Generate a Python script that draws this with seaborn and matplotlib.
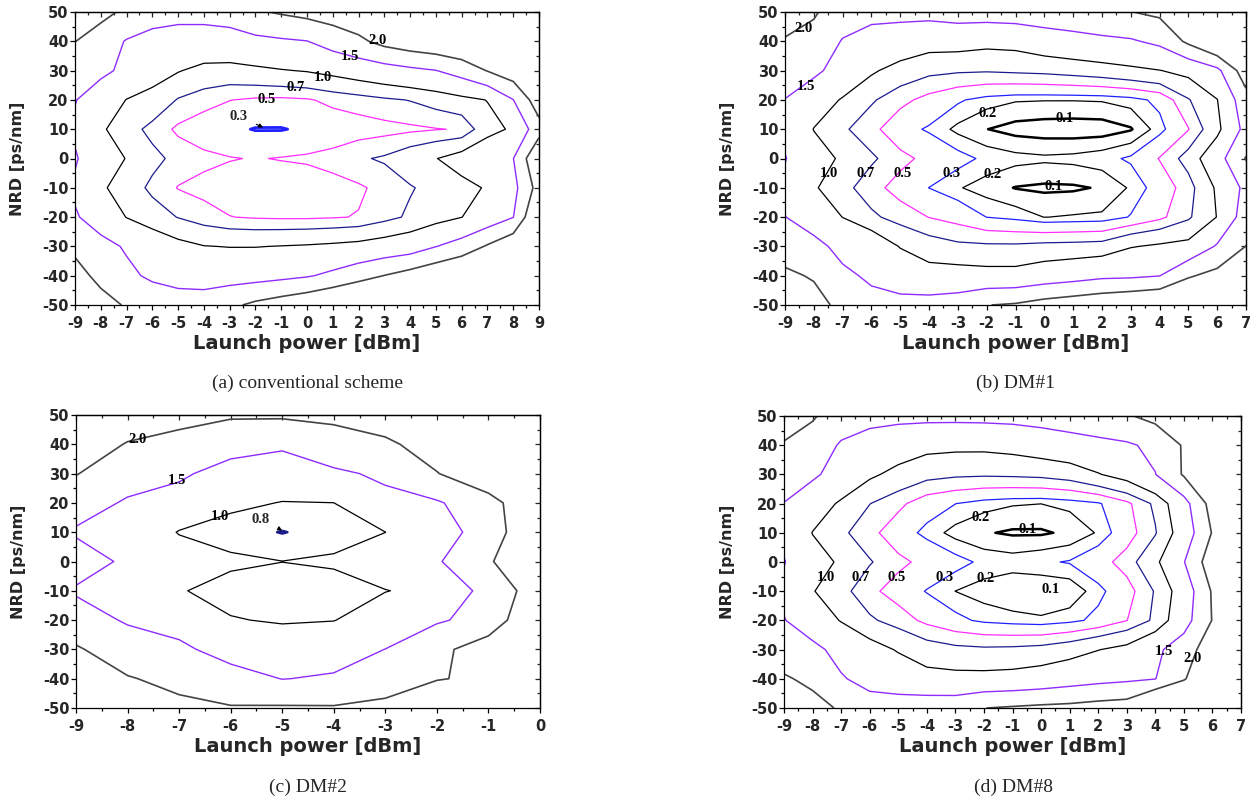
import numpy as np
import pandas as pd
import matplotlib
matplotlib.use("Agg")
import matplotlib.pyplot as plt
import seaborn as sns
from matplotlib.ticker import MultipleLocator, NullFormatter

sns.set_style("ticks")
plt.rcParams['font.family'] = ['DejaVu Sans']
plt.rcParams['axes.unicode_minus'] = False

# NRD grid (ps/nm), top row first
nrd = [50, 40, 30, 20, 10, 0, -10, -20, -30, -40, -50]

# launch power grids (dBm)
power_a = list(range(-9, 10))
power_b = list(range(-9, 8))
power_c = list(range(-9, 1))
power_d = list(range(-9, 8))

# (a) conventional scheme
grid_a = [
    [2.3, 2.15, 1.9, 1.7, 1.65, 1.65, 1.7, 1.95, 2.05, 2.15, 2.25, 2.35, 2.45, 2.55, 2.65, 2.75, 2.85, 2.95, 3.05],
    [2.01, 1.75, 1.47, 1.35, 1.3, 1.3, 1.32, 1.38, 1.44, 1.49, 1.7, 1.9, 2.15, 2.3, 2.4, 2.5, 2.6, 2.7, 2.8],
    [1.75, 1.6, 1.4, 1.12, 1.02, 0.9, 0.88, 0.93, 0.98, 1.02, 1.1, 1.2, 1.3, 1.4, 1.49, 1.7, 2.02, 2.3, 2.5],
    [1.52, 1.25, 0.99, 0.91, 0.68, 0.58, 0.505, 0.47, 0.46, 0.48, 0.55, 0.6, 0.66, 0.71, 0.8, 0.9, 1.01, 1.49, 2.3],
    [1.42, 1.05, 0.82, 0.62, 0.46, 0.38, 0.34, 0.29, 0.29, 0.33, 0.37, 0.4, 0.43, 0.46, 0.49, 0.515, 0.885, 1.05, 1.8],
    [1.55, 1.15, 0.99, 0.78, 0.62, 0.55, 0.51, 0.49, 0.51, 0.53, 0.57, 0.67, 0.73, 0.86, 0.99, 1.15, 1.3, 1.49, 2.5],
    [1.42, 1.05, 0.85, 0.64, 0.49, 0.44, 0.41, 0.4, 0.38, 0.38, 0.43, 0.47, 0.56, 0.68, 0.78, 0.9, 1.03, 1.35, 2.2],
    [1.55, 1.27, 0.99, 0.83, 0.69, 0.58, 0.505, 0.48, 0.47, 0.47, 0.485, 0.51, 0.62, 0.74, 0.86, 0.995, 1.2, 1.49, 2.6],
    [1.88, 1.65, 1.45, 1.25, 1.1, 1.01, 0.99, 0.99, 1.01, 1.03, 1.06, 1.1, 1.17, 1.25, 1.49, 1.7, 2.05, 2.4, 2.8],
    [2.2, 1.85, 1.6, 1.42, 1.33, 1.3, 1.3, 1.32, 1.38, 1.46, 1.6, 1.8, 2.01, 2.2, 2.4, 2.6, 2.8, 3.0, 3.2],
    [2.5, 2.2, 1.95, 1.8, 1.72, 1.72, 1.9, 2.1, 2.25, 2.4, 2.6, 2.8, 3.0, 3.2, 3.4, 3.6, 3.8, 4.0, 4.2],
]

# (b) DM#1
grid_b = [
    [2.3, 2.05, 1.75, 1.65, 1.62, 1.65, 1.72, 1.72, 1.75, 1.8, 1.85, 1.9, 1.99, 2.1, 2.3, 2.5, 2.9],
    [1.95, 1.85, 1.47, 1.3, 1.28, 1.15, 1.15, 1.1, 1.12, 1.24, 1.32, 1.4, 1.45, 1.6, 2.1, 2.6, 2.7],
    [1.72, 1.6, 1.3, 1.05, 0.86, 0.76, 0.73, 0.72, 0.74, 0.76, 0.8, 0.85, 0.92, 0.99, 1.1, 1.38, 2.29],
    [1.49, 1.2, 0.97, 0.73, 0.56, 0.43, 0.32, 0.245, 0.21, 0.205, 0.205, 0.21, 0.245, 0.34, 0.68, 0.99, 1.81],
    [1.4, 0.99, 0.74, 0.56, 0.36, 0.28, 0.17, 0.102, 0.06, 0.045, 0.04, 0.045, 0.09, 0.25, 0.49, 0.9, 1.65],
    [1.52, 1.15, 0.95, 0.74, 0.56, 0.44, 0.35, 0.27, 0.235, 0.22, 0.23, 0.26, 0.32, 0.51, 0.8, 1.3, 2.03],
    [1.4, 1.04, 0.78, 0.57, 0.42, 0.298, 0.21, 0.15, 0.095, 0.08, 0.085, 0.11, 0.215, 0.37, 0.6, 1.05, 1.62],
    [1.51, 1.25, 0.995, 0.75, 0.6, 0.495, 0.42, 0.298, 0.26, 0.198, 0.21, 0.22, 0.31, 0.45, 0.66, 1.01, 1.75],
    [1.75, 1.65, 1.35, 1.3, 0.98, 0.82, 0.75, 0.74, 0.74, 0.77, 0.78, 0.8, 0.98, 1.05, 1.1, 1.55, 2.01],
    [2.1, 1.95, 1.6, 1.42, 1.3, 1.15, 1.15, 1.12, 1.12, 1.22, 1.3, 1.4, 1.42, 1.49, 1.95, 2.15, 2.5],
    [2.4, 2.2, 1.85, 1.65, 1.62, 1.68, 1.75, 1.99, 2.05, 2.2, 2.3, 2.4, 2.5, 2.6, 2.6, 2.7, 2.9],
]

# (c) DM#2
grid_c = [
    [2.6, 2.3, 2.15, 2.05, 2.06, 2.05, 2.3, 2.6, 2.8, 3.0],
    [2.3, 1.97, 1.85, 1.7, 1.59, 1.9, 1.9, 2.25, 2.6, 2.9],
    [2.02, 1.7, 1.58, 1.3, 1.19, 1.4, 1.6, 1.98, 2.4, 2.8],
    [1.7, 1.45, 1.3, 1.06, 0.99, 0.998, 1.35, 1.45, 1.8, 2.5],
    [1.45, 1.32, 0.98, 0.89, 0.79, 0.89, 0.998, 1.3, 1.7, 2.56],
    [1.72, 1.42, 1.2, 1.05, 1.003, 1.04, 1.2, 1.45, 1.95, 2.45],
    [1.45, 1.33, 1.02, 0.9, 0.87, 0.886, 0.99, 1.09, 1.68, 2.26],
    [1.72, 1.45, 1.3, 1.018, 0.97, 0.99, 1.2, 1.45, 1.65, 2.6],
    [2.05, 1.75, 1.6, 1.3, 1.2, 1.3, 1.505, 1.85, 2.3, 2.7],
    [2.35, 2.03, 1.88, 1.7, 1.49, 1.55, 1.8, 1.97, 2.1, 2.8],
    [2.6, 2.35, 2.1, 2.03, 2.05, 2.04, 2.1, 2.5, 2.7, 3.0],
]

# (d) DM#8
grid_d = [
    [2.3, 2.05, 1.75, 1.65, 1.62, 1.62, 1.62, 1.63, 1.65, 1.7, 1.78, 1.87, 1.95, 2.15, 2.5, 2.9, 3.2],
    [1.95, 1.78, 1.45, 1.3, 1.2, 1.1, 1.08, 1.08, 1.12, 1.2, 1.28, 1.36, 1.44, 1.6, 2.05, 2.7, 3.0],
    [1.72, 1.58, 1.3, 1.06, 0.9, 0.78, 0.74, 0.73, 0.74, 0.76, 0.82, 0.98, 1.15, 1.49, 2.05, 2.6, 2.9],
    [1.49, 1.2, 0.95, 0.705, 0.55, 0.38, 0.302, 0.24, 0.21, 0.201, 0.23, 0.28, 0.45, 0.75, 1.32, 2.2, 2.6],
    [1.4, 0.99, 0.75, 0.56, 0.38, 0.26, 0.16, 0.11, 0.085, 0.085, 0.12, 0.212, 0.4, 0.68, 1.2, 2.03, 2.5],
    [1.52, 1.15, 0.95, 0.72, 0.55, 0.44, 0.35, 0.27, 0.25, 0.28, 0.31, 0.41, 0.59, 0.92, 1.48, 2.3, 2.6],
    [1.4, 1.02, 0.78, 0.55, 0.41, 0.29, 0.199, 0.15, 0.115, 0.102, 0.12, 0.26, 0.41, 0.72, 1.2, 2.05, 2.5],
    [1.52, 1.23, 0.98, 0.74, 0.6, 0.45, 0.34, 0.27, 0.24, 0.22, 0.26, 0.34, 0.495, 0.75, 1.3, 2.02, 2.5],
    [1.75, 1.62, 1.35, 1.15, 0.97, 0.82, 0.76, 0.74, 0.75, 0.78, 0.86, 0.99, 1.1, 1.4, 1.75, 2.3, 2.7],
    [2.05, 1.9, 1.54, 1.35, 1.25, 1.12, 1.1, 1.1, 1.12, 1.18, 1.28, 1.36, 1.42, 1.49, 1.95, 2.6, 3.0],
    [2.4, 2.15, 1.95, 1.7, 1.72, 1.79, 1.8, 1.995, 2.05, 2.1, 2.13, 2.2, 2.25, 2.9, 3.0, 3.2, 3.4],
]

levels_a = [0.3, 0.5, 0.7, 1.0, 1.5, 2.0]
levels_b = [0.1, 0.2, 0.3, 0.5, 0.7, 1.0, 1.5, 2.0]
levels_c = [0.8, 1.0, 1.5, 2.0]
levels_d = [0.1, 0.2, 0.3, 0.5, 0.7, 1.0, 1.5, 2.0]

# contour label texts and where they sit
labels_a = [("2.0", 2.75, 40.2), ("1.5", 1.65, 34.7), ("1.0", 0.6, 27.8),
            ("0.7", -0.45, 24.2), ("0.5", -1.55, 20.1)]
labels_b = [("2.0", -8.35, 44.4), ("1.5", -8.26, 24.6), ("0.2", -1.97, 15.2),
            ("0.1", 0.72, 13.6), ("1.0", -7.46, -5.2), ("0.7", -6.19, -5.2),
            ("0.5", -4.93, -5.2), ("0.3", -3.23, -5.2), ("0.2", -1.8, -5.3),
            ("0.1", 0.31, -9.4)]
labels_c = [("2.0", -7.8, 41.8), ("1.5", -7.05, 27.5), ("1.0", -6.21, 15.3)]
labels_d = [("0.2", -2.13, 15.1), ("0.1", -0.47, 11.3), ("1.0", -7.55, -5.3),
            ("0.7", -6.31, -5.3), ("0.5", -5.07, -5.3), ("0.3", -3.39, -5.3),
            ("0.2", -1.93, -5.6), ("0.1", 0.34, -9.3), ("1.5", 4.3, -30.7),
            ("2.0", 5.3, -33.2)]

level_style = {
    0.1: ("black", 1.8),
    0.2: ("black", 0.9),
    0.3: ("#1f1fff", 0.9),
    0.5: ("#ff2bff", 0.9),
    0.7: ("#1a1a8c", 0.9),
    0.8: ("#1a1a8c", 1.8),
    1.0: ("black", 0.9),
    1.5: ("#8f2bff", 1.0),
    2.0: ("#444444", 1.2),
}

W, H = 1257, 800
fig = plt.figure(figsize=(W / 100, H / 100), dpi=100)
label_font = dict(fontsize=10.5, family="Liberation Serif", fontweight="bold")


def rect(left, top, right, bottom):
    return [left / W, 1 - bottom / H, (right - left) / W, (bottom - top) / H]


def draw_panel(box, power, grid, levels, labels, caption, cap_xy, arrow=None, thick=None):
    ax = fig.add_axes(box)
    df = pd.DataFrame(grid, index=nrd, columns=power)
    X, Y = np.meshgrid(df.columns.values, df.index.values)
    for lvl in levels:
        col, lw = level_style[lvl]
        if thick and lvl in thick:
            lw = thick[lvl]
        ax.contour(X, Y, df.values, levels=[lvl], colors=[col], linewidths=[lw])

    for txt, x, y in labels:
        ax.text(x, y, txt, ha="center", va="center", color="black", **label_font)
    if arrow is not None:
        txt, (tx, ty), (px, py) = arrow
        ax.annotate(txt, xy=(px, py), xytext=(tx, ty), ha="center", va="center",
                    arrowprops=dict(arrowstyle="-|>", color="black", lw=0.8,
                                    mutation_scale=6, shrinkA=4, shrinkB=0),
                    **label_font)

    ax.set_xlim(power[0], power[-1])
    ax.set_ylim(-50, 50)
    ax.set_xticks(power, labels=[str(v) for v in power], fontweight="bold", fontsize=10.5)
    ax.set_yticks(nrd, labels=[str(v) for v in nrd], fontweight="bold", fontsize=10.5)
    ax.xaxis.set_minor_locator(MultipleLocator(0.5))
    ax.yaxis.set_minor_locator(MultipleLocator(5))
    ax.tick_params(which="major", direction="out", length=3.8, width=0.9, color="black")
    ax.tick_params(which="minor", direction="out", length=2.2, width=0.9, color="black")
    ax.tick_params(axis="x", which="major", pad=4)
    ax.tick_params(axis="y", which="major", pad=1)

    top = ax.secondary_xaxis("top")
    top.set_xticks(power)
    top.xaxis.set_minor_locator(MultipleLocator(0.5))
    top.xaxis.set_major_formatter(NullFormatter())
    top.tick_params(which="major", direction="in", length=3.8, width=0.9)
    top.tick_params(which="minor", direction="in", length=2.2, width=0.9)
    right = ax.secondary_yaxis("right")
    right.set_yticks(nrd)
    right.yaxis.set_minor_locator(MultipleLocator(5))
    right.yaxis.set_major_formatter(NullFormatter())
    right.tick_params(which="major", direction="in", length=3.8, width=0.9)
    right.tick_params(which="minor", direction="in", length=2.2, width=0.9)
    for sp in list(ax.spines.values()) + [top.spines["top"], right.spines["right"]]:
        sp.set_linewidth(0.9)
        sp.set_color("black")

    ax.set_xlabel("Launch power [dBm]", fontsize=14, fontweight="bold", labelpad=2)
    ax.set_ylabel("NRD [ps/nm]", fontsize=11.5, fontweight="bold")
    ax.yaxis.set_label_coords(-0.108, 0.5)
    fig.text(cap_xy[0] / W, 1 - cap_xy[1] / H, caption, ha="center", va="center",
             fontsize=14, family="Liberation Serif")
    return ax


draw_panel(rect(75, 12, 539, 305), power_a, grid_a, levels_a, labels_a,
           "(a) conventional scheme", (308, 383),
           arrow=("0.3", (-2.64, 14.4), (-1.7, 10.6)), thick={0.3: 2.0})
draw_panel(rect(785, 12, 1246, 305), power_b, grid_b, levels_b, labels_b,
           "(b) DM#1", (1015, 383))
draw_panel(rect(76, 415, 540, 708), power_c, grid_c, levels_c, labels_c,
           "(c) DM#2", (308, 787),
           arrow=("0.8", (-5.41, 14.4), (-5.0, 10.6)))
draw_panel(rect(784, 416, 1241, 708), power_d, grid_d, levels_d, labels_d,
           "(d) DM#8", (1013, 787))

fig.savefig("out.png", dpi=100, facecolor="white")
